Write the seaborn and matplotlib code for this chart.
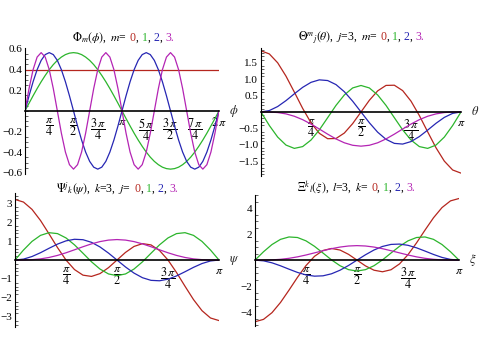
import numpy as np
import pandas as pd
import matplotlib
matplotlib.use("Agg")
import matplotlib.pyplot as plt
import seaborn as sns
from matplotlib.ticker import FixedLocator, MultipleLocator

# ---------------- data ----------------
PI = np.pi
phi = np.linspace(0, 2 * PI, 49)
ang = np.linspace(0, PI, 25)

phi_m0 = [0.399] * 49
phi_m1 = [0, .074, .146, .216, .282, .343, .399, .448, .489, .521, .545, .559, .564,
          .559, .545, .521, .489, .448, .399, .343, .282, .216, .146, .074, 0,
          -.074, -.146, -.216, -.282, -.343, -.399, -.448, -.489, -.521, -.545, -.559, -.564,
          -.559, -.545, -.521, -.489, -.448, -.399, -.343, -.282, -.216, -.146, -.074, 0]
phi_m2 = [0, .146, .282, .399, .489, .545, .564, .545, .489, .399, .282, .146, 0,
          -.146, -.282, -.399, -.489, -.545, -.564, -.545, -.489, -.399, -.282, -.146, 0,
          .146, .282, .399, .489, .545, .564, .545, .489, .399, .282, .146, 0,
          -.146, -.282, -.399, -.489, -.545, -.564, -.545, -.489, -.399, -.282, -.146, 0]
phi_m3 = [0, .216, .399, .521, .564, .521, .399, .216, 0, -.216, -.399, -.521, -.564, -.521, -.399, -.216, 0,
          .216, .399, .521, .564, .521, .399, .216, 0, -.216, -.399, -.521, -.564, -.521, -.399, -.216, 0,
          .216, .399, .521, .564, .521, .399, .216, 0, -.216, -.399, -.521, -.564, -.521, -.399, -.216, 0]

theta_m0 = [1.871, 1.775, 1.504, 1.095, .608, .109, -.331, -.653, -.818, -.812, -.645, -.356, 0,
            .356, .645, .812, .818, .653, .331, -.109, -.608, -1.095, -1.504, -1.775, -1.871]
theta_m1 = [0, -.414, -.768, -1.013, -1.114, -1.059, -.859, -.548, -.175, .201, .520, .735, .810,
            .735, .520, .201, -.175, -.548, -.859, -1.059, -1.114, -1.013, -.768, -.414, 0]
theta_m2 = [0, .043, .166, .347, .555, .753, .906, .982, .961, .837, .619, .329, 0,
            -.329, -.619, -.837, -.961, -.982, -.906, -.753, -.555, -.347, -.166, -.043, 0]
theta_m3 = [0, -.002, -.018, -.059, -.131, -.236, -.370, -.522, -.679, -.825, -.943, -1.019, -1.046,
            -1.019, -.943, -.825, -.679, -.522, -.370, -.236, -.131, -.059, -.018, -.002, 0]

psi_j0 = [3.192, 3.056, 2.670, 2.085, 1.382, .656, 0, -.503, -.798, -.864, -.716, -.402, 0,
          .402, .716, .864, .798, .503, 0, -.656, -1.382, -2.085, -2.670, -3.056, -3.192]
psi_j1 = [0, .527, .981, 1.300, 1.442, 1.393, 1.165, .800, .357, -.093, -.476, -.734, -.824,
          -.734, -.476, -.093, .357, .800, 1.165, 1.393, 1.442, 1.300, .981, .527, 0]
psi_j2 = [0, .048, .185, .386, .618, .839, 1.010, 1.094, 1.071, .933, .689, .366, 0,
          -.366, -.689, -.933, -1.071, -1.094, -1.010, -.839, -.618, -.386, -.185, -.048, 0]
psi_j3 = [0, .002, .019, .060, .135, .243, .382, .539, .701, .851, .972, 1.051, 1.079,
          1.051, .972, .851, .701, .539, .382, .243, .135, .060, .019, .002, 0]

xi_k0 = [-4.740, -4.558, -4.042, -3.257, -2.309, -1.322, -.419, .293, .741, .896, .776, .446, 0,
         -.446, -.776, -.896, -.741, -.293, .419, 1.322, 2.309, 3.257, 4.042, 4.558, 4.740]
xi_k1 = [0, .643, 1.200, 1.597, 1.782, 1.739, 1.482, 1.061, .545, .019, -.430, -.732, -.839,
         -.732, -.430, .019, .545, 1.061, 1.482, 1.739, 1.782, 1.597, 1.200, .643, 0]
xi_k2 = [0, -.054, -.208, -.436, -.697, -.947, -1.139, -1.234, -1.208, -1.052, -.778, -.413, 0,
         .413, .778, 1.052, 1.208, 1.234, 1.139, .947, .697, .436, .208, .054, 0]
xi_k3 = [0, .003, .019, .062, .139, .251, .394, .557, .724, .879, 1.004, 1.086, 1.115,
         1.086, 1.004, .879, .724, .557, .394, .251, .139, .062, .019, .003, 0]

phi_ticks = [PI / 4, PI / 2, 3 * PI / 4, PI, 5 * PI / 4, 3 * PI / 2, 7 * PI / 4, 2 * PI]
phi_tick_labels = [r'$\dfrac{\pi}{4}$', r'$\dfrac{\pi}{2}$', r'$\dfrac{3\,\pi}{4}$', r'$\pi$',
                   r'$\dfrac{5\,\pi}{4}$', r'$\dfrac{3\,\pi}{2}$', r'$\dfrac{7\,\pi}{4}$', r'$2\,\pi$']
half_ticks = [PI / 4, PI / 2, 3 * PI / 4, PI]
half_tick_labels = [r'$\dfrac{\pi}{4}$', r'$\dfrac{\pi}{2}$', r'$\dfrac{3\,\pi}{4}$', r'$\pi$']

y1_ticks = [-0.6, -0.4, -0.2, 0.2, 0.4, 0.6]
y1_labels = ['\u22120.6', '\u22120.4', '\u22120.2', '0.2', '0.4', '0.6']
y2_ticks = [-1.5, -1.0, -0.5, 0.5, 1.0, 1.5]
y2_labels = ['\u22121.5', '\u22121.0', '\u22120.5', '0.5', '1.0', '1.5']
y3_ticks = [-3, -2, -1, 1, 2, 3]
y3_labels = ['\u22123', '\u22122', '\u22121', '1', '2', '3']
y4_ticks = [-4, -2, 2, 4]
y4_labels = ['\u22124', '\u22122', '2', '4']

# ---------------- style ----------------
sns.set_theme(style="white")
plt.rcParams['font.family'] = ['Liberation Serif', 'DejaVu Serif']
plt.rcParams['mathtext.fontset'] = 'stix'

RED, GREEN, BLUE, MAG = '#b5261e', '#2cb52c', '#2626b3', '#b424b4'
PALETTE = [RED, GREEN, BLUE, MAG]

fig = plt.figure(figsize=(4.8, 3.6), dpi=100)
W, H = 480.0, 360.0


def panel(rect, x, series, ylim, yticks, ylabels, yminor, xticks, xlabels, xname):
    ax = fig.add_axes(rect)
    frames = []
    for i, s in enumerate(series):
        frames.append(pd.DataFrame({'x': x, 'y': s, 'c': str(i)}))
    df = pd.concat(frames, ignore_index=True)
    sns.lineplot(data=df, x='x', y='y', hue='c', hue_order=['0', '1', '2', '3'],
                 palette=PALETTE, sort=False, estimator=None, linewidth=0.9,
                 legend=False, ax=ax)
    ax.set_xlim(x[0], x[-1])
    ax.set_ylim(*ylim)
    ax.set_xlabel('')
    ax.set_ylabel('')
    for sp in ['top', 'right']:
        ax.spines[sp].set_visible(False)
    ax.spines['left'].set_position(('data', 0))
    ax.spines['bottom'].set_position(('data', 0))
    ax.spines['left'].set_color('black')
    ax.spines['bottom'].set_color('black')
    ax.spines['left'].set_linewidth(0.8)
    ax.spines['bottom'].set_linewidth(1.2)
    ax.set_yticks(yticks)
    ax.set_yticklabels(ylabels)
    ax.yaxis.set_minor_locator(MultipleLocator(yminor))
    ax.set_xticks(xticks)
    ax.set_xticklabels(xlabels)
    ax.tick_params(axis='y', which='major', direction='in', length=3.5, width=0.6,
                   labelsize=8, pad=2, colors='black')
    ax.tick_params(axis='y', which='minor', direction='in', length=1.8, width=0.5, left=True)
    ax.tick_params(axis='x', which='major', direction='in', length=3.5, width=0.6,
                   labelsize=8.8, pad=3.5, colors='black')
    ax.patch.set_alpha(0)
    ax.annotate(xname, xy=(x[-1], 0), xytext=(7, 0), textcoords='offset points',
                ha='left', va='center', fontsize=9)
    return ax


def ctitle(xc, ybase, parts, size=8.5):
    r = fig.canvas.get_renderer()
    a = fig.text(0, 0, '0 0', fontsize=size)
    b = fig.text(0, 0, '00', fontsize=size)
    sp = a.get_window_extent(r).width - b.get_window_extent(r).width
    a.remove()
    b.remove()
    texts = []
    for txt, col, gap in parts:
        t = fig.text(0, ybase / H, txt, color=col, fontsize=size, ha='left', va='baseline')
        texts.append((t, gap))
    widths = [t.get_window_extent(r).width for t, _ in texts]
    total = sum(widths) + sum(g * sp for _, g in texts[:-1])
    xpos = xc - total / 2
    for (t, g), w in zip(texts, widths):
        t.set_position((xpos / W, ybase / H))
        xpos += w + g * sp


K = 'black'
panel([25 / W, 0.517, 194 / W, 0.35], phi, [phi_m0, phi_m1, phi_m2, phi_m3],
      (-0.61, 0.61), y1_ticks, y1_labels, 0.05, phi_ticks, phi_tick_labels, r'$\phi$')
panel([261 / W, 0.511, 200 / W, 0.356], ang, [theta_m0, theta_m1, theta_m2, theta_m3],
      (-1.96, 1.96), y2_ticks, y2_labels, 0.1, half_ticks, half_tick_labels, r'$\theta$')
panel([15 / W, 0.0917, 204 / W, 0.372], ang, [psi_j0, psi_j1, psi_j2, psi_j3],
      (-3.53, 3.53), y3_ticks, y3_labels, 0.2, half_ticks, half_tick_labels, r'$\psi$')
panel([255 / W, 0.094, 204 / W, 0.364], ang, [xi_k0, xi_k1, xi_k2, xi_k3],
      (-5.08, 5.0), y4_ticks, y4_labels, 0.5, half_ticks, half_tick_labels, r'$\xi$')

fig.canvas.draw()
ctitle(123, H - 41, [(r'$\Phi_m(\phi)$,', K, 1), (r'$m$=', K, 1), ('0', RED, 0), (',', K, 1),
                     ('1', GREEN, 0), (',', K, 1), ('2', BLUE, 0), (',', K, 1), ('3.', MAG, 0)])
ctitle(361, H - 40, [(r'$\Theta^{m}{}_{j}(\theta)$,', K, 1), (r'$j$=3,', K, 1), (r'$m$=', K, 1),
                     ('0', RED, 0), (',', K, 1), ('1', GREEN, 0), (',', K, 1), ('2', BLUE, 0),
                     (',', K, 1), ('3.', MAG, 0)])
ctitle(117, H - 192, [(r'$\Psi^{j}{}_{k}(\psi)$,', K, 1), (r'$k$=3,', K, 1), (r'$j$=', K, 1),
                      ('0', RED, 0), (',', K, 1), ('1', GREEN, 0), (',', K, 1), ('2', BLUE, 0),
                      (',', K, 1), ('3.', MAG, 0)])
ctitle(356, H - 191, [(r'$\Xi^{k}{}_{l}(\xi)$,', K, 1), (r'$l$=3,', K, 1), (r'$k$=', K, 1),
                      ('0', RED, 0), (',', K, 1), ('1', GREEN, 0), (',', K, 1), ('2', BLUE, 0),
                      (',', K, 1), ('3.', MAG, 0)])

fig.savefig('out.png', dpi=100)
